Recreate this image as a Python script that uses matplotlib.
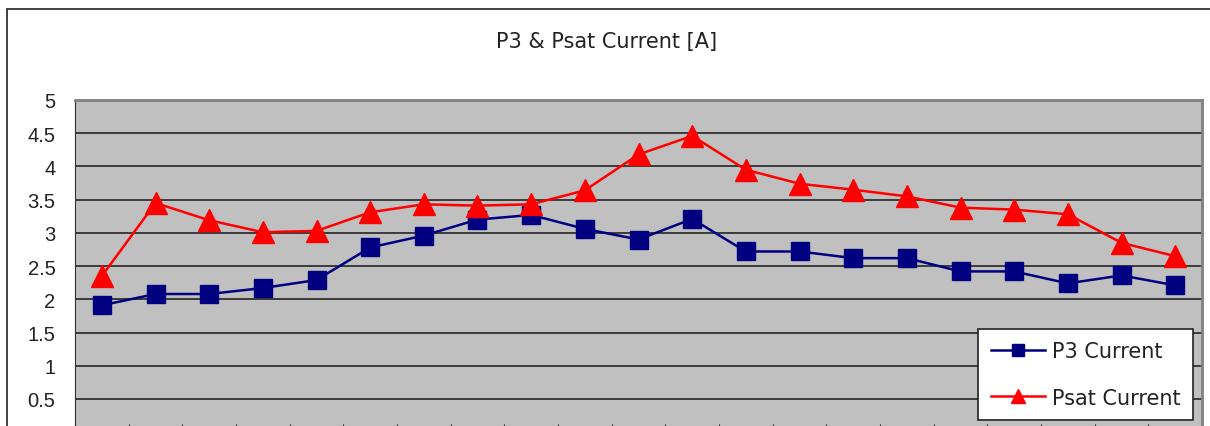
import numpy as np
import matplotlib
matplotlib.use("Agg")
import matplotlib.pyplot as plt
from matplotlib.patches import Rectangle

# values (21 samples)
p3_current = [1.91, 2.08, 2.08, 2.17, 2.29, 2.78, 2.96, 3.20, 3.27, 3.06, 2.90,
              3.21, 2.72, 2.72, 2.62, 2.62, 2.42, 2.42, 2.24, 2.36, 2.21]
psat_current = [2.35, 3.45, 3.19, 3.01, 3.03, 3.31, 3.43, 3.41, 3.43, 3.64, 4.18,
                4.46, 3.95, 3.74, 3.65, 3.55, 3.38, 3.35, 3.28, 2.85, 2.65]
y_ticks = [0, 0.5, 1, 1.5, 2, 2.5, 3, 3.5, 4, 4.5, 5]
y_labels = ["0", "0.5", "1", "1.5", "2", "2.5", "3", "3.5", "4", "4.5", "5"]

plt.rcParams["font.family"] = ["Liberation Sans", "DejaVu Sans"]

W, H = 1210, 427
fig = plt.figure(figsize=(W / 100, H / 100), dpi=100)

# outer chart border (left and top edges visible)
fig.patches.append(Rectangle((7 / W, -0.2), 1.2, (H - 10) / H + 0.2,
                             transform=fig.transFigure, fill=False,
                             edgecolor="#202020", linewidth=1.2))

ax = fig.add_axes([75 / W, (H - 433.2) / H, (1202 - 75) / W, (433.2 - 101) / H])
ax.set_facecolor("#C0C0C0")

x = np.arange(len(p3_current))
ax.plot(x, p3_current, color="#000080", linewidth=1.8, marker="s",
        markersize=13.5, label="P3 Current", zorder=3)
ax.plot(x, psat_current, color="#FF0000", linewidth=1.8, marker="^",
        markersize=15.5, label="Psat Current", zorder=4)

ax.set_xlim(-0.5, len(x) - 0.5)
ax.set_ylim(0, 5)
ax.set_yticks(y_ticks)
ax.set_yticklabels(y_labels, fontsize=14.5, color="#222222")
ax.tick_params(axis="y", length=0, pad=14)
ax.set_xticks(np.arange(len(x) + 1) - 0.5)
ax.set_xticklabels([])
ax.tick_params(axis="x", direction="in", length=6, color="#222222")
ax.grid(axis="y", color="#303030", linewidth=1.3)
ax.set_axisbelow(True)

for side in ["top", "right"]:
    ax.spines[side].set_color("#808080")
    ax.spines[side].set_linewidth(2)
ax.spines["left"].set_color("#303030")
ax.spines["bottom"].set_color("#303030")

fig.text(607 / W, (H - 42) / H, "P3 & Psat Current [A]", ha="center",
         va="center", fontsize=15, color="#222222", family="DejaVu Sans")

leg = ax.legend(loc="upper left", bbox_to_anchor=(978 / W, (H - 330) / H),
                bbox_transform=fig.transFigure, frameon=True,
                prop={"family": "DejaVu Sans", "size": 15},
                fancybox=False, framealpha=1, edgecolor="#222222",
                labelspacing=1.25, handlelength=2.6, handletextpad=0.35,
                markerscale=0.65, borderpad=0.6, borderaxespad=0)
leg.get_frame().set_linewidth(1.2)
for t in leg.get_texts():
    t.set_color("#222222")

fig.savefig("out.png", dpi=100)
